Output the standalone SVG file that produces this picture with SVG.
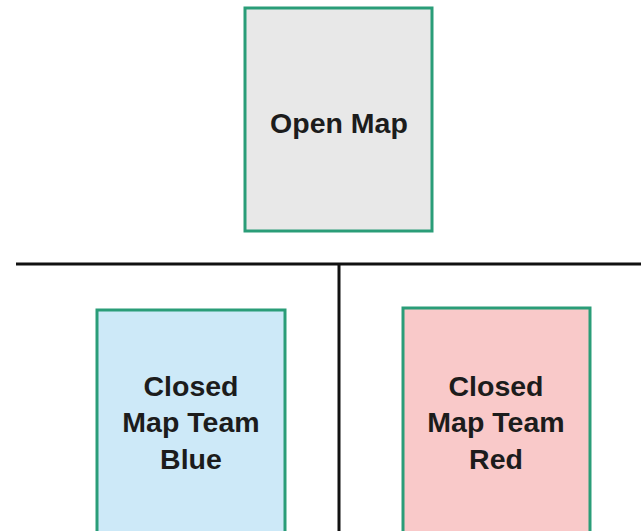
<svg xmlns="http://www.w3.org/2000/svg" width="641" height="531" viewBox="0 0 641 531">
<style>
.box{stroke:#2a9d78;stroke-width:3}
.lbl{font-family:"Liberation Sans",Arial,sans-serif;font-weight:bold;font-size:28.5px;fill:#1c1c1c;text-anchor:middle}
.line{stroke:#111;stroke-width:3;fill:none}
</style>
<rect width="641" height="531" fill="#ffffff"/>
<g id="connectors">
<line class="line" x1="16" y1="264" x2="641" y2="264"/>
<line class="line" x1="339" y1="264" x2="339" y2="531"/>
</g>
<g id="open-map">
<rect class="box" x="245" y="8" width="187" height="223" fill="#e8e8e8"/>
<text class="lbl" x="339" y="133">Open Map</text>
</g>
<g id="closed-blue">
<rect class="box" x="97" y="310" width="188" height="230" fill="#cde9f8"/>
<text class="lbl" x="191" y="396">Closed</text>
<text class="lbl" x="191" y="432">Map Team</text>
<text class="lbl" x="191" y="469">Blue</text>
</g>
<g id="closed-red">
<rect class="box" x="403" y="308" width="187" height="232" fill="#f9c9c9"/>
<text class="lbl" x="496" y="396">Closed</text>
<text class="lbl" x="496" y="432">Map Team</text>
<text class="lbl" x="496" y="469">Red</text>
</g>
</svg>
